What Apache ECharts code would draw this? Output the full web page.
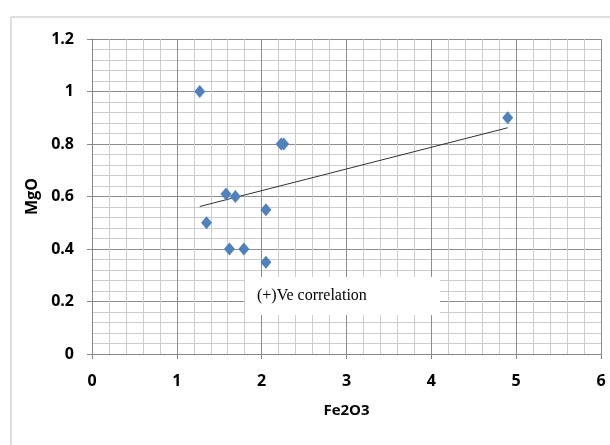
<!DOCTYPE html>
<html>
<head>
<meta charset="utf-8">
<script src="https://cdn.jsdelivr.net/npm/echarts@6/dist/echarts.min.js"></script>
<style>
    html, body { margin: 0; padding: 0; background: #fff; }
    #chart { width: 610px; height: 445px; }
</style>
</head>
<body>
<div id="chart"></div>
<script>
// Fe2O3 (x) vs MgO (y)
var fe2o3 = [1.27, 2.23, 2.26, 1.58, 1.69, 2.05, 1.35, 1.62, 1.79, 2.05, 4.9];
var mgo   = [1.0, 0.8, 0.8, 0.61, 0.6, 0.55, 0.5, 0.4, 0.4, 0.35, 0.9];
var xTicks = [0, 1, 2, 3, 4, 5, 6];
var yTicks = [0, 0.2, 0.4, 0.6, 0.8, 1, 1.2];
var note = '(+)Ve correlation';

var points = fe2o3.map(function (x, i) { return [x, mgo[i]]; });

// linear trendline (least squares) over the data range
function trend(xs, ys) {
    var n = xs.length, sx = 0, sy = 0, sxx = 0, sxy = 0;
    for (var i = 0; i < n; i++) {
        sx += xs[i]; sy += ys[i];
        sxx += xs[i] * xs[i]; sxy += xs[i] * ys[i];
    }
    var b = (n * sxy - sx * sy) / (n * sxx - sx * sx);
    var a = (sy - b * sx) / n;
    var x0 = Math.min.apply(null, xs), x1 = Math.max.apply(null, xs);
    return [[x0, a + b * x0], [x1, a + b * x1]];
}

var labelFont = { color: '#000', fontFamily: 'Open Sans', fontWeight: 'bold', fontSize: 16 };

var myChart = echarts.init(document.getElementById('chart'));
myChart.setOption({
    animation: false,
    grid: { left: 92, right: 9, top: 39, bottom: 91 },
    xAxis: {
        type: 'value',
        min: xTicks[0], max: xTicks[xTicks.length - 1], interval: 1,
        name: 'Fe2O3', nameLocation: 'middle', nameGap: 49,
        nameTextStyle: { color: '#000', fontFamily: 'Open Sans', fontWeight: 'bold', fontSize: 15 },
        axisLine: { lineStyle: { color: '#868686' } },
        axisTick: { show: true, length: 5, lineStyle: { color: '#868686' } },
        axisLabel: Object.assign({ margin: 19 }, labelFont),
        splitLine: { show: true, lineStyle: { color: '#8c8c8c' } },
        minorTick: { show: false, splitNumber: 5 },
        minorSplitLine: { show: true, lineStyle: { color: '#cccccc' } }
    },
    yAxis: {
        type: 'value',
        min: yTicks[0], max: yTicks[yTicks.length - 1], interval: 0.2,
        name: 'MgO', nameLocation: 'middle', nameGap: 50,
        nameTextStyle: { color: '#000', fontFamily: 'Open Sans', fontWeight: 'bold', fontSize: 16 },
        axisLine: { show: true, lineStyle: { color: '#868686' } },
        axisTick: { show: true, length: 5, lineStyle: { color: '#868686' } },
        axisLabel: Object.assign({ margin: 18 }, labelFont),
        splitLine: { show: true, lineStyle: { color: '#8c8c8c' } },
        minorTick: { show: false, splitNumber: 5 },
        minorSplitLine: { show: true, lineStyle: { color: '#cccccc' } }
    },
    series: [
        {
            type: 'scatter',
            symbol: 'diamond',
            symbolSize: [11, 13],
            itemStyle: { color: '#4f81bd', opacity: 1 },
            data: points,
            z: 3
        },
        {
            type: 'line',
            symbol: 'none',
            lineStyle: { color: '#303030', width: 1 },
            data: trend(fe2o3, mgo),
            z: 2
        }
    ],
    graphic: [
        {   // outer chart border
            type: 'rect',
            shape: { x: 11, y: 17, width: 620, height: 460 },
            style: { fill: 'none', stroke: '#c0c0c0', lineWidth: 1 },
            silent: true
        },
        {   // text box
            type: 'rect', z: 100,
            shape: { x: 245, y: 277, width: 195, height: 38 },
            style: { fill: '#ffffff', stroke: 'none' }
        },
        {
            type: 'text', z: 101,
            x: 257, y: 296,
            style: {
                text: note, fill: '#000', fontSize: 16,
                fontFamily: 'Liberation Serif', verticalAlign: 'middle'
            }
        }
    ]
});
</script>
</body>
</html>
